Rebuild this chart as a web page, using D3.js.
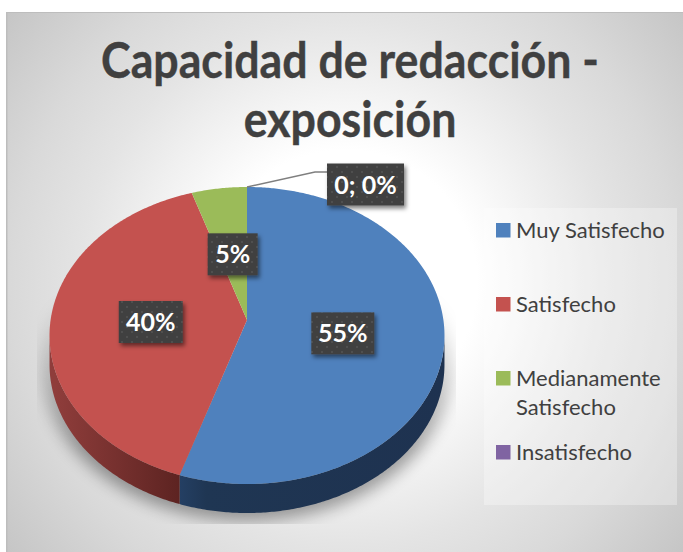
<!DOCTYPE html>
<html><head><meta charset="utf-8">
<script src="https://d3js.org/d3.v7.min.js"></script>
<style>html,body{margin:0;padding:0;background:#fff}svg{display:block}text{font-family:Lato,"Open Sans",sans-serif}</style>
</head><body><div id="c"></div>
<script>
const titleLines = ["Capacidad de redacción -", "exposición"];
const categories = ["Muy Satisfecho", "Satisfecho", "Medianamente Satisfecho", "Insatisfecho"];
const values = [55, 40, 5, 0];
const topColors = ["#4f81bd", "#c4524f", "#9bbb59", "#8064a2"];
const zeroLabel = "0; 0%";

const W = 683, H = 552;
const svg = d3.select("#c").append("svg").attr("width", W).attr("height", H);
const defs = svg.append("defs");

// perspective projection of the pie's unit disc on the page
const C = {x: 247, y: 320, A: 196.4, B: 146.9, k: 0.1044, depth: 29};
const proj = (theta, r = 1) => {
  const u = r * Math.sin(theta), v = r * Math.cos(theta), w = 1 + C.k * v;
  return [C.x + C.A * u / w, C.y - C.B * v / w];
};
const line = d3.line();
const arcPts = (a0, a1, dy = 0) => {
  const n = Math.max(2, Math.ceil(Math.abs(a1 - a0) / 0.01));
  return d3.range(n + 1).map(i => {
    const p = proj(a0 + (a1 - a0) * i / n);
    return [p[0], p[1] + dy];
  });
};

// background
const bg = defs.append("radialGradient").attr("id", "bg").attr("gradientUnits", "userSpaceOnUse")
  .attr("cx", 345).attr("cy", 282).attr("r", 440);
[[0, "#ffffff"], [0.3, "#ffffff"], [0.6, "#e4e4e4"], [0.76, "#d9d9d9"], [1, "#c4c4c4"]].forEach(s =>
  bg.append("stop").attr("offset", s[0]).attr("stop-color", s[1]));
svg.append("rect").attr("x", 6).attr("y", 12).attr("width", W - 6).attr("height", H - 12).attr("fill", "#bdbdbd");
svg.append("rect").attr("x", 7.5).attr("y", 13).attr("width", W - 7.5).attr("height", H - 13).attr("fill", "url(#bg)");

// title
svg.append("g").attr("transform", "translate(350,0) scale(0.894,1)")
  .selectAll("text").data(titleLines).join("text")
  .attr("x", 0).attr("y", (d, i) => 78 + i * 59)
  .attr("text-anchor", "middle").attr("font-size", 50).attr("font-weight", 700)
  .attr("fill", "#404040").attr("stroke", "#404040").attr("stroke-width", 0.4).text(d => d);

// legend box
svg.append("rect").attr("x", 484).attr("y", 208).attr("width", 193).attr("height", 297)
  .attr("fill", "#fff").attr("opacity", 0.3);

// pie layout
const pie = d3.pie().value(d => d).sort(null);
const arcs = pie(values);

// shadow, fading upward and cut off at its box
const blur = defs.append("filter").attr("id", "blur").attr("x", "-20%").attr("y", "-20%").attr("width", "140%").attr("height", "140%");
blur.append("feGaussianBlur").attr("stdDeviation", 8);
const fade = defs.append("linearGradient").attr("id", "fade").attr("gradientUnits", "userSpaceOnUse")
  .attr("x1", 0).attr("x2", 0).attr("y1", 290).attr("y2", 450);
[[0, "#000"], [1, "#fff"]].forEach(s => fade.append("stop").attr("offset", s[0]).attr("stop-color", s[1]));
defs.append("mask").attr("id", "shMask").attr("maskUnits", "userSpaceOnUse")
  .attr("x", 37).attr("y", 290).attr("width", 419).attr("height", 234)
  .append("rect").attr("x", 37).attr("y", 290).attr("width", 419).attr("height", 234).attr("fill", "url(#fade)");
svg.append("g").attr("mask", "url(#shMask)").append("path")
  .attr("d", line(arcPts(0, 2 * Math.PI, C.depth)) + "Z")
  .attr("fill", "#000").attr("stroke", "#000").attr("stroke-width", 16)
  .attr("opacity", 0.36).attr("filter", "url(#blur)");

// side walls
const vis0 = Math.acos(-C.k), vis1 = 2 * Math.PI - vis0;
const sideG = [
  ["sb", [[0, "#243f63"], [0.1, "#1f3653"], [1, "#1e3250"]], 180, 444],
  ["sr", [[0, "#8f3d3b"], [1, "#5c2321"]], 55, 182]
];
sideG.forEach(g => {
  const lin = defs.append("linearGradient").attr("id", g[0]).attr("gradientUnits", "userSpaceOnUse")
    .attr("x1", g[2]).attr("x2", g[3]).attr("y1", 0).attr("y2", 0);
  g[1].forEach(s => lin.append("stop").attr("offset", s[0]).attr("stop-color", s[1]));
});
arcs.forEach((a, i) => {
  const s = Math.max(a.startAngle, vis0), e = Math.min(a.endAngle, vis1);
  if (e <= s || i > 1) return;
  const pts = arcPts(s, e).concat(arcPts(e, s, C.depth));
  svg.append("path").attr("d", line(pts) + "Z").attr("fill", `url(#${sideG[i][0]})`);
});

// top faces
arcs.forEach((a, i) => {
  if (a.endAngle - a.startAngle <= 0) return;
  const pts = [[C.x, C.y]].concat(arcPts(a.startAngle, a.endAngle));
  svg.append("path").attr("d", line(pts) + "Z").attr("fill", topColors[i]);
});

// leader line
const leaderStart = proj(2 * Math.PI);
svg.append("path").attr("d", line([leaderStart, [315, 172], [328, 172]]))
  .attr("fill", "none").attr("stroke", "#7f7f7f").attr("stroke-width", 1.4);

// data labels
const pat = defs.append("pattern").attr("id", "dots").attr("patternUnits", "userSpaceOnUse").attr("width", 10).attr("height", 10);
pat.append("rect").attr("width", 10).attr("height", 10).attr("fill", "#404040");
[[2, 2], [7, 7]].forEach(p => pat.append("circle").attr("cx", p[0]).attr("cy", p[1]).attr("r", 1).attr("fill", "#555555"));
const ds = defs.append("filter").attr("id", "ds").attr("x", "-20%").attr("y", "-20%").attr("width", "150%").attr("height", "160%");
ds.append("feDropShadow").attr("dx", 2).attr("dy", 3).attr("stdDeviation", 2).attr("flood-color", "#000").attr("flood-opacity", 0.5);

const drawLabel = (cx, cy, w, txt) => {
  svg.append("rect").attr("x", cx - w / 2).attr("y", cy - 21).attr("width", w).attr("height", 42)
    .attr("fill", "url(#dots)").attr("filter", "url(#ds)");
  svg.append("text").attr("x", cx).attr("y", cy + 9).attr("text-anchor", "middle")
    .attr("font-size", 25).attr("font-weight", 700).attr("fill", "#fff").text(txt);
};
const labelWidths = [63, 64, 50];
arcs.forEach((a, i) => {
  if (!a.value) return;
  const p = proj((a.startAngle + a.endAngle) / 2, 0.49);
  drawLabel(p[0], p[1] + 2, labelWidths[i], d3.format(".0%")(a.value / d3.sum(values)));
});
drawLabel(365.5, 184.5, 77, zeroLabel);

// legend
const legY = d3.scalePoint().domain(categories).range([230.5, 452.5]);
const legG = svg.append("g");
categories.forEach((c, i) => {
  const y = legY(c);
  legG.append("rect").attr("x", 496).attr("y", y - 7.5).attr("width", 14.5).attr("height", 14.5).attr("fill", topColors[i]);
  const words = c === "Medianamente Satisfecho" ? c.split(" ") : [c];
  words.forEach((w, j) => legG.append("text").attr("x", 516).attr("y", y + 7 + j * 29.5)
    .attr("font-size", 22).attr("fill", "#404040").text(w));
});
</script></body></html>
